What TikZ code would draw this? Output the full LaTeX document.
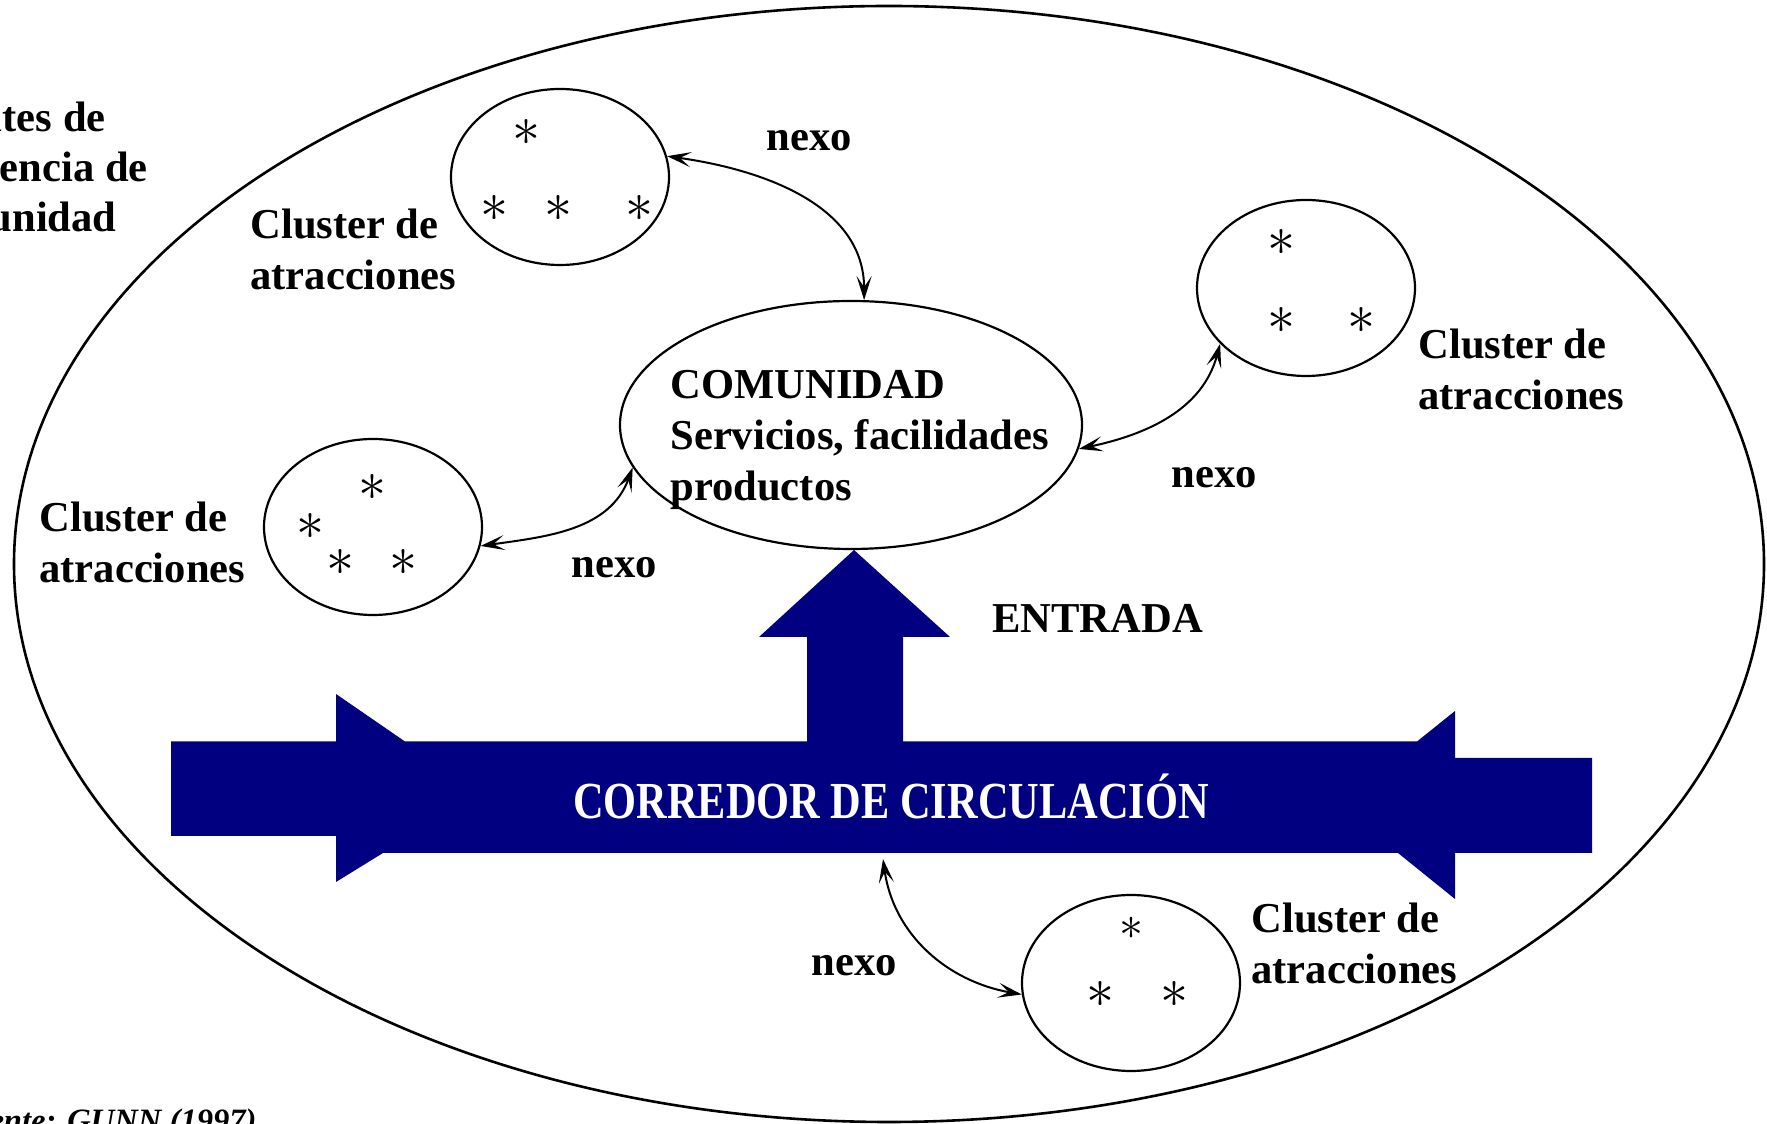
\RequirePackage{fix-cm}
\documentclass[tikz,border=0pt]{standalone}
\usepackage{fontspec}
\setmainfont{Liberation Serif}
\usepackage{graphicx}
\usetikzlibrary{shapes.geometric,arrows.meta}

\definecolor{navy}{RGB}{0,0,128}
\tikzstyle{region}=[draw, ellipse, line width=1.3pt, minimum width=875pt, minimum height=558pt, inner sep=0pt]
\tikzstyle{hub}=[draw, ellipse, line width=1.1pt, minimum width=231pt, minimum height=124pt, inner sep=0pt]
\tikzstyle{cluster}=[draw, ellipse, line width=1.1pt, minimum width=109pt, minimum height=88pt, inner sep=0pt]
\tikzstyle{ast}=[inner sep=0pt, font=\fontsize{28}{28}\selectfont]
\tikzstyle{lbl}=[inner sep=0pt, align=left, font=\fontsize{21.3}{25.5}\selectfont\bfseries]
\tikzstyle{lnk}=[line width=1pt, {Stealth[length=12pt,width=7.5pt,inset=5.5pt]}-{Stealth[length=12pt,width=7.5pt,inset=5.5pt]}]
\tikzstyle{band}=[fill=navy]

\begin{document}
\begin{tikzpicture}[x=0.5pt, y=0.5pt]
      \useasboundingbox (0,0) rectangle (1767,1124);

      \node[region] (reg) at (889,560) {};

      \fill[band] (171,382.5) -- (336,382.5) -- (336,430) -- (405,382.5) -- (1417,382.5) -- (1455,413) -- (1455,366) -- (1592,366) -- (1592,271) -- (1455,271) -- (1455,225) -- (1398,271) -- (383,271) -- (336,242) -- (336,288) -- (171,288) -- cycle;
      \fill[band] (807,382) -- (807,487) -- (759,487) -- (854,574) -- (950,487) -- (903,487) -- (903,382) -- cycle;
      \node[lbl, anchor=base, text=white, font=\fontsize{26}{28}\selectfont\bfseries] (corrtxt) at (891,305) {\scalebox{0.815}[1]{CORREDOR DE CIRCULACIÓN}};
      \coordinate (corr) at (883,265);

      \node[hub] (com) at (851,699) {};
      \node[lbl, anchor=west] (comtxt) at (670,684) {COMUNIDAD\\Servicios, facilidades\\productos};

      \node[cluster] (clA) at (560,947) {};
      \node[cluster] (clB) at (1306,836) {};
      \node[cluster] (clC) at (373,597) {};
      \node[cluster] (clD) at (1131,141) {};

      \node[ast] (a1) at (526,992) {$\ast$};
      \node[ast] (a2) at (494,916) {$\ast$};
      \node[ast] (a3) at (558,916) {$\ast$};
      \node[ast] (a4) at (639,916) {$\ast$};
      \node[ast] (b1) at (1281,882) {$\ast$};
      \node[ast] (b2) at (1281,804) {$\ast$};
      \node[ast] (b3) at (1361,804) {$\ast$};
      \node[ast] (c1) at (372,637) {$\ast$};
      \node[ast] (c2) at (310,598) {$\ast$};
      \node[ast] (c3) at (340,562) {$\ast$};
      \node[ast] (c4) at (403,562) {$\ast$};
      \node[ast, font=\fontsize{24}{24}\selectfont] (d1) at (1131,196) {$\ast$};
      \node[ast] (d2) at (1100,130) {$\ast$};
      \node[ast] (d3) at (1174,130) {$\ast$};

      \node[lbl, anchor=west] (labA) at (250,875) {Cluster de\\atracciones};
      \node[lbl, anchor=west] (labB) at (1418,755) {Cluster de\\atracciones};
      \node[lbl, anchor=west] (labC) at (39,582) {Cluster de\\atracciones};
      \node[lbl, anchor=west] (labD) at (1251,181) {Cluster de\\atracciones};

      \node[lbl] (nexoA) at (809,983) {nexo};
      \node[lbl] (nexoB) at (1214,646) {nexo};
      \node[lbl] (nexoC) at (614,556) {nexo};
      \node[lbl] (nexoD) at (854,158) {nexo};
      \node[lbl, anchor=west] (entrada) at (992,506) {ENTRADA};

      \node[lbl, anchor=base east] (lim1) at (106,992) {ites de};
      \node[lbl, anchor=base east] (lim2) at (148,942) {encia de};
      \node[lbl, anchor=base east] (lim3) at (117,892) {unidad};
      \node[lbl, anchor=base east, font=\fontsize{16.3}{18}\selectfont\bfseries\itshape] (src) at (257,-8) {ente: GUNN (1997)};

      \draw[lnk] (clA.11) to[out=-8, in=90] (com.84);
      \draw[lnk] (com.-6) to[out=12, in=-105] (clB.213);
      \draw[lnk] (clC.-10) to[out=8, in=-110] (com.191);
      \draw[lnk] (corr) to[out=-82, in=170] (clD.186);
    \end{tikzpicture}
\end{document}
